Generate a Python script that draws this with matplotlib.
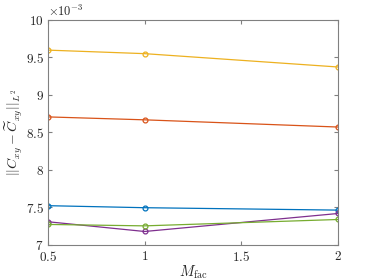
import matplotlib
matplotlib.use("Agg")
import matplotlib.pyplot as plt

plt.rcParams["mathtext.fontset"] = "cm"
plt.rcParams["font.family"] = "serif"
plt.rcParams["font.serif"] = ["DejaVu Serif"]

# Data (values in units of 1e-3)
m_fac = [0.5, 1.0, 2.0]
err_blue = [7.524, 7.497, 7.465]
err_red = [8.707, 8.668, 8.572]
err_yellow = [9.597, 9.550, 9.372]
err_purple = [7.310, 7.180, 7.420]
err_green = [7.274, 7.255, 7.340]

series = [err_blue, err_red, err_yellow, err_purple, err_green]
colors = ["#0072BD", "#D95319", "#EDB120", "#7E2F8E", "#77AC30"]

xticks = [0.5, 1, 1.5, 2]
yticks = [7, 7.5, 8, 8.5, 9, 9.5, 10]

fig = plt.figure(figsize=(3.74, 2.80), dpi=100)
ax = fig.add_axes([0.128, 0.125, 0.776, 0.804])

for vals, c in zip(series, colors):
    ax.plot(m_fac, vals, color=c, lw=0.9, marker="o", ms=3.5,
            mfc="none", mec=c, mew=0.9)

ax.set_xlim(0.5, 2)
ax.set_ylim(7, 10)
ax.set_xticks(xticks)
ax.set_xticklabels(["$%g$" % t for t in xticks])
ax.set_yticks(yticks)
ax.set_yticklabels(["$%g$" % t for t in yticks])

axis_col = "#808080"
for s in ax.spines.values():
    s.set_color(axis_col)
    s.set_linewidth(0.8)
ax.tick_params(direction="in", top=True, right=True, length=3,
               color=axis_col, labelsize=9.5, labelcolor="#262626")
ax.tick_params(axis="x", pad=3.5)
ax.tick_params(axis="y", pad=3)

ax.set_xlabel(r"$M_{\rm fac}$", fontsize=10.5, color="#262626", labelpad=0)
ax.set_ylabel(r"$||C_{xy}-\widetilde{C}_{xy}||_{L^2}$", fontsize=10,
              color="#262626", labelpad=1)
ax.text(0.0, 1.005, r"$\times 10^{-3}$", transform=ax.transAxes,
        fontsize=9, color="#262626", ha="left", va="bottom")

fig.savefig("out.png", dpi=100)
